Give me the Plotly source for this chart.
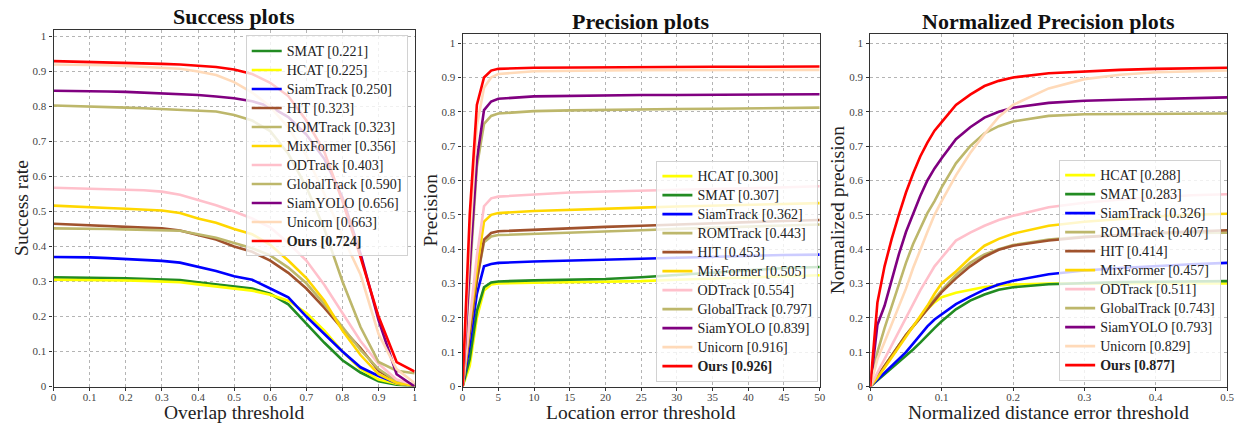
import plotly.graph_objects as go

W, H = 1247, 430

# ---------------- data ----------------
names_succ = ["SMAT", "HCAT", "SiamTrack", "HIT", "ROMTrack", "MixFormer", "ODTrack",
              "GlobalTrack", "SiamYOLO", "Unicorn", "Ours"]
scores_succ = ["0.221", "0.225", "0.250", "0.323", "0.323", "0.356", "0.403",
               "0.590", "0.656", "0.663", "0.724"]
names_prec = ["HCAT", "SMAT", "SiamTrack", "ROMTrack", "HIT", "MixFormer", "ODTrack",
              "GlobalTrack", "SiamYOLO", "Unicorn", "Ours"]
scores_prec = ["0.300", "0.307", "0.362", "0.443", "0.453", "0.505", "0.554",
               "0.797", "0.839", "0.916", "0.926"]
names_norm = ["HCAT", "SMAT", "SiamTrack", "ROMTrack", "HIT", "MixFormer", "ODTrack",
              "GlobalTrack", "SiamYOLO", "Unicorn", "Ours"]
scores_norm = ["0.288", "0.283", "0.326", "0.407", "0.414", "0.457", "0.511",
               "0.743", "0.793", "0.829", "0.877"]

colors = {
    "SMAT": "#228B22", "HCAT": "#FFFF00", "SiamTrack": "#0000FF", "HIT": "#A0522D",
    "ROMTrack": "#BDB76B", "MixFormer": "#FFD700", "ODTrack": "#FFC0CB",
    "GlobalTrack": "#BDB76B", "SiamYOLO": "#800080", "Unicorn": "#FFDAB9", "Ours": "#FF0000",
}

succ_x = [0, .05, .1, .15, .2, .25, .3, .35, .4, .45, .5, .55, .6, .65, .7, .75, .8, .85, .9, .95, 1.0]
succ_smat = [.312, .312, .311, .310, .309, .308, .306, .304, .298, .292, .285, .28, .265, .235, .18, .125, .075, .04, .015, .005, 0]
succ_hcat = [.305, .305, .304, .303, .303, .302, .301, .298, .292, .286, .279, .274, .262, .245, .21, .16, .10, .05, .02, .008, .002]
succ_siamtrack = [.370, .370, .369, .367, .365, .362, .359, .354, .343, .33, .315, .305, .28, .255, .20, .15, .10, .055, .03, .01, .002]
succ_hit = [.465, .463, .462, .460, .458, .455, .452, .446, .432, .42, .40, .385, .36, .325, .28, .225, .165, .11, .045, .015, .005]
succ_romtrack = [.452, .452, .451, .450, .449, .448, .447, .445, .435, .425, .41, .395, .375, .34, .295, .235, .17, .105, .05, .015, .005]
succ_mixformer = [.517, .514, .512, .510, .508, .506, .503, .496, .48, .468, .45, .435, .405, .36, .31, .245, .16, .09, .035, .01, .002]
succ_odtrack = [.568, .567, .566, .565, .563, .561, .557, .548, .533, .518, .50, .48, .455, .41, .36, .29, .21, .13, .065, .02, .005]
succ_globaltrack = [.803, .802, .800, .799, .797, .795, .793, .792, .790, .786, .776, .76, .73, .665, .57, .45, .30, .17, .07, .045, .038]
succ_siamyolo = [.845, .845, .844, .843, .842, .840, .838, .836, .833, .829, .824, .815, .80, .77, .72, .65, .54, .38, .19, .035, 0]
succ_unicorn = [.920, .920, .919, .918, .916, .914, .912, .908, .90, .89, .87, .84, .80, .74, .66, .55, .43, .32, .15, .05, .01]
succ_ours = [.930, .929, .928, .927, .926, .924, .922, .920, .917, .913, .906, .893, .868, .83, .76, .67, .53, .37, .20, .07, .043]

prec_x = [0, 1, 2, 3, 4, 5, 10, 15, 20, 25, 30, 35, 40, 45, 50]
prec_smat = [0, .08, .22, .289, .303, .306, .309, .311, .313, .318, .325, .333, .34, .345, .348]
prec_hcat = [0, .06, .2, .28, .297, .300, .302, .303, .304, .307, .311, .314, .318, .321, .324]
prec_siamtrack = [0, .12, .27, .35, .357, .36, .364, .366, .369, .372, .375, .378, .381, .383, .384]
prec_romtrack = [0, .15, .31, .42, .437, .441, .444, .447, .451, .455, .459, .463, .466, .469, .472]
prec_hit = [0, .15, .31, .428, .447, .452, .457, .461, .465, .468, .472, .476, .479, .482, .485]
prec_mixformer = [0, .18, .34, .48, .50, .505, .511, .515, .518, .521, .524, .527, .530, .532, .534]
prec_odtrack = [0, .20, .38, .525, .548, .553, .56, .565, .568, .571, .573, .575, .577, .580, .583]
prec_globaltrack = [0, .33, .64, .765, .788, .795, .802, .804, .806, .807, .808, .809, .81, .811, .812]
prec_siamyolo = [0, .35, .66, .805, .83, .838, .845, .847, .848, .849, .849, .850, .850, .851, .851]
prec_unicorn = [0, .42, .76, .87, .90, .91, .918, .92, .92, .921, .921, .921, .922, .922, .922]
prec_ours = [0, .50, .82, .90, .92, .925, .928, .929, .93, .93, .931, .931, .931, .932, .932]

norm_x = [0, .01, .02, .03, .04, .05, .06, .07, .08, .09, .10, .12, .14, .16, .18, .20, .25, .30, .35, .40, .45, .50]
norm_smat = [0, .018, .035, .053, .072, .09, .108, .128, .15, .17, .19, .225, .25, .268, .282, .289, .298, .302, .304, .305, .306, .307]
norm_hcat = [0, .03, .06, .09, .12, .15, .175, .20, .225, .245, .26, .273, .282, .29, .294, .297, .30, .30, .30, .30, .30, .30]
norm_siamtrack = [0, .02, .04, .06, .08, .10, .125, .15, .175, .195, .21, .24, .262, .282, .297, .308, .327, .338, .345, .351, .356, .36]
norm_romtrack = [0, .03, .06, .09, .12, .15, .175, .20, .23, .255, .28, .325, .36, .385, .40, .412, .428, .437, .442, .445, .447, .448]
norm_hit = [0, .03, .06, .09, .12, .15, .175, .20, .225, .25, .275, .315, .35, .378, .398, .41, .425, .435, .442, .447, .451, .455]
norm_mixformer = [0, .025, .055, .085, .115, .145, .175, .205, .235, .27, .30, .335, .375, .41, .43, .445, .468, .48, .488, .495, .50, .503]
norm_odtrack = [0, .04, .08, .12, .16, .20, .24, .28, .315, .35, .375, .425, .448, .468, .485, .497, .522, .535, .545, .552, .557, .56]
norm_globaltrack = [0, .10, .17, .235, .30, .36, .415, .46, .505, .54, .58, .65, .70, .737, .758, .772, .788, .793, .794, .795, .795, .795]
norm_siamyolo = [0, .18, .235, .31, .385, .45, .505, .555, .60, .635, .665, .72, .755, .783, .80, .812, .826, .832, .835, .838, .84, .842]
norm_unicorn = [0, .08, .13, .18, .23, .285, .345, .40, .45, .50, .54, .615, .68, .735, .785, .82, .868, .895, .908, .915, .918, .92]
norm_ours = [0, .245, .35, .43, .50, .565, .62, .67, .71, .745, .77, .82, .85, .875, .89, .90, .912, .918, .922, .925, .927, .928]

succ_series = {"SMAT": succ_smat, "HCAT": succ_hcat, "SiamTrack": succ_siamtrack, "HIT": succ_hit,
               "ROMTrack": succ_romtrack, "MixFormer": succ_mixformer, "ODTrack": succ_odtrack,
               "GlobalTrack": succ_globaltrack, "SiamYOLO": succ_siamyolo, "Unicorn": succ_unicorn,
               "Ours": succ_ours}
prec_series = {"SMAT": prec_smat, "HCAT": prec_hcat, "SiamTrack": prec_siamtrack, "HIT": prec_hit,
               "ROMTrack": prec_romtrack, "MixFormer": prec_mixformer, "ODTrack": prec_odtrack,
               "GlobalTrack": prec_globaltrack, "SiamYOLO": prec_siamyolo, "Unicorn": prec_unicorn,
               "Ours": prec_ours}
norm_series = {"SMAT": norm_smat, "HCAT": norm_hcat, "SiamTrack": norm_siamtrack, "HIT": norm_hit,
               "ROMTrack": norm_romtrack, "MixFormer": norm_mixformer, "ODTrack": norm_odtrack,
               "GlobalTrack": norm_globaltrack, "SiamYOLO": norm_siamyolo, "Unicorn": norm_unicorn,
               "Ours": norm_ours}

y_ticks = [0, .1, .2, .3, .4, .5, .6, .7, .8, .9, 1]
y_ticktext = ["0", "0.1", "0.2", "0.3", "0.4", "0.5", "0.6", "0.7", "0.8", "0.9", "1"]
succ_xticks = [0, .1, .2, .3, .4, .5, .6, .7, .8, .9, 1]
succ_xticktext = ["0", "0.1", "0.2", "0.3", "0.4", "0.5", "0.6", "0.7", "0.8", "0.9", "1"]
prec_xticks = [0, 5, 10, 15, 20, 25, 30, 35, 40, 45, 50]
norm_xticks = [0, .1, .2, .3, .4, .5]
norm_xticktext = ["0", "0.1", "0.2", "0.3", "0.4", "0.5"]

# ---------------- figure ----------------
FONT = "Liberation Serif"
fig = go.Figure()

panels = [
    (names_succ, scores_succ, succ_x, succ_series, "x", "y", "legend"),
    (names_prec, scores_prec, prec_x, prec_series, "x2", "y2", "legend2"),
    (names_norm, scores_norm, norm_x, norm_series, "x3", "y3", "legend3"),
]
for names, scores, xs, series, xa, ya, lg in panels:
    for n, s in zip(names, scores):
        txt = f"<b>{n} [{s}]</b>" if n == "Ours" else f"{n} [{s}]"
        label = f"<span style='font-size:14px'>{txt}</span>"
        fig.add_trace(go.Scatter(x=xs, y=series[n], mode="lines", name=label,
                                 line=dict(color=colors[n], width=2.6),
                                 xaxis=xa, yaxis=ya, legend=lg, showlegend=True))

def px_x(p):
    return p / W

def px_y(p):
    return 1 - p / H

axis_common = dict(showgrid=True, gridcolor="#b4b4b4", griddash="dot", gridwidth=1,
                   showline=True, mirror=True, linecolor="#333333", linewidth=1.3,
                   ticks="outside", ticklen=3, tickcolor="#333333",
                   tickfont=dict(family=FONT, size=11, color="#444444"), zeroline=False)
xaxis_extra = dict(ticklabelstandoff=-3)
yaxis_extra = dict(ticklabelstandoff=1)

dom1 = [px_x(51), px_x(415)]
dom2 = [px_x(463.3), px_x(823.3)]
dom3 = [px_x(874.3), px_x(1234)]
ydom1 = [px_y(392), px_y(30)]
ydom2 = [px_y(392), px_y(34.3)]

fig.update_layout(
    width=W, height=H, margin=dict(l=0, r=0, t=0, b=0),
    paper_bgcolor="white", plot_bgcolor="white",
    font=dict(family=FONT, color="#222222"),
    xaxis=dict(domain=dom1, range=[0, 1], tickvals=succ_xticks, ticktext=succ_xticktext, anchor="y", **axis_common, **xaxis_extra),
    yaxis=dict(domain=ydom1, range=[0, 1.02], tickvals=y_ticks, ticktext=y_ticktext, anchor="x", **axis_common, **yaxis_extra),
    xaxis2=dict(domain=dom2, range=[0, 50], tickvals=prec_xticks, anchor="y2", **axis_common, **xaxis_extra),
    yaxis2=dict(domain=ydom2, range=[0, 1.027], tickvals=y_ticks, ticktext=y_ticktext, anchor="x2", **axis_common, **yaxis_extra),
    xaxis3=dict(domain=dom3, range=[0, 0.5], tickvals=norm_xticks, ticktext=norm_xticktext, anchor="y3", **axis_common, **xaxis_extra),
    yaxis3=dict(domain=ydom2, range=[0, 1.027], tickvals=y_ticks, ticktext=y_ticktext, anchor="x3", **axis_common, **yaxis_extra),
)

leg_common = dict(bgcolor="rgba(255,255,255,0.8)", bordercolor="#d2d2d2", borderwidth=1,
                  font=dict(family=FONT, size=12, color="#222222"), itemwidth=30,
                  tracegroupgap=0, traceorder="normal")
fig.update_layout(
    legend=dict(x=px_x(408), y=px_y(36), xanchor="right", yanchor="top", **leg_common),
    legend2=dict(x=px_x(822), y=px_y(387), xanchor="right", yanchor="bottom", **leg_common),
    legend3=dict(x=px_x(1228), y=px_y(386), xanchor="right", yanchor="bottom", **leg_common),
)

ann = []
titles = [("Success plots", 233, 17), ("Precision plots", 643.3, 22), ("Normalized Precision plots", 1054, 22)]
for t, cx, cy in titles:
    ann.append(dict(text=f"<b>{t}</b>", x=px_x(cx), y=px_y(cy), xref="paper", yref="paper",
                    showarrow=False, xanchor="center", yanchor="middle",
                    font=dict(family=FONT, size=22, color="#111111")))
xtitles = [("Overlap threshold", 233), ("Location error threshold", 643.3), ("Normalized distance error threshold", 1054)]
for t, cx in xtitles:
    ann.append(dict(text=t, x=px_x(cx), y=px_y(430), xref="paper", yref="paper",
                    showarrow=False, xanchor="center", yanchor="bottom", borderpad=0,
                    font=dict(family=FONT, size=19.5, color="#222222")))
ytitles = [("Success rate", 18, 211), ("Precision", 430, 213), ("Normalized precision", 841, 213)]
for t, cx, cy in ytitles:
    ann.append(dict(text=t, x=px_x(cx), y=px_y(cy), xref="paper", yref="paper", textangle=-90,
                    showarrow=False, xanchor="center", yanchor="middle",
                    font=dict(family=FONT, size=19.5, color="#222222")))
fig.update_layout(annotations=ann)

fig.write_html("out.html")
